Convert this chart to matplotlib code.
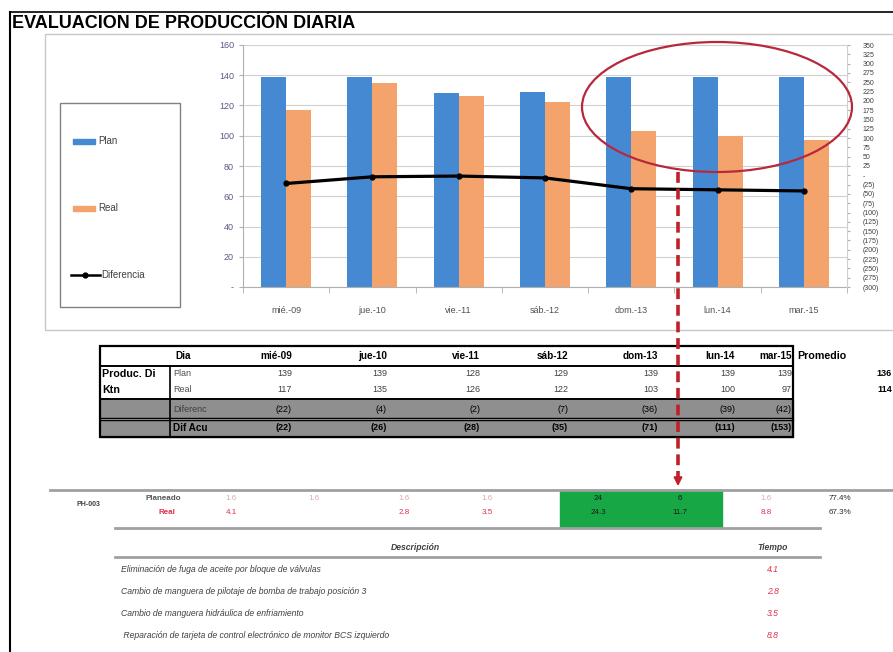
import numpy as np
import matplotlib
matplotlib.use("Agg")
import matplotlib.pyplot as plt
from matplotlib.patches import Rectangle, Ellipse
from matplotlib.lines import Line2D
from matplotlib.ticker import FuncFormatter, MultipleLocator

plt.rcParams['font.family'] = ['Liberation Sans', 'DejaVu Sans']

# datos del grafico
dias = ['mié.-09', 'jue.-10', 'vie.-11', 'sáb.-12', 'dom.-13', 'lun.-14', 'mar.-15']
dias_tabla = ['mié-09', 'jue-10', 'vie-11', 'sáb-12', 'dom-13', 'lun-14', 'mar-15']
plan = [139, 139, 128, 129, 139, 139, 139]
real = [117, 135, 126, 122, 103, 100, 97]
diferencia = [-22, -4, -2, -7, -36, -39, -42]
dif_acu = [-22, -26, -28, -35, -71, -111, -153]

# tabla de paradas
equipo = 'PH-003'
planeado = ['1.6', '1.6', '1.6', '1.6', '24', '6', '1.6']
real_h = ['4.1', '', '2.8', '3.5', '24.3', '11.7', '8.8']
pct_plan = '77.4%'
pct_real = '67.3%'
descripcion = ['Eliminación de fuga de aceite por bloque de válvulas',
               'Cambio de manguera de pilotaje de bomba de trabajo posición 3',
               'Cambio de manguera hidráulica de enfriamiento',
               ' Reparación de tarjeta de control electrónico de monitor BCS izquierdo']
tiempo = ['4.1', '2.8', '3.5', '8.8']

BLUE = '#4589d3'
ORANGE = '#f4a36c'
RED = '#e0304a'
W, H = 893, 652

fig = plt.figure(figsize=(W / 100, H / 100), dpi=100)


def pixel_axes(z):
    a = fig.add_axes([0, 0, 1, 1], zorder=z)
    a.set_xlim(0, W)
    a.set_ylim(H, 0)
    a.axis('off')
    a.patch.set_alpha(0)
    return a


def acct(v):
    if v == 0:
        return '-'
    return f'({abs(v):.0f})' if v < 0 else f'{v:.0f}'


# capa en pixeles para marcos y tablas
bg = pixel_axes(0)

# marcos
bg.plot([10, 10], [12, H], color='black', lw=1.5)
bg.plot([10, W], [12, 12], color='black', lw=1.2)
bg.text(12, 23.5, 'EVALUACION DE PRODUCCIÓN DIARIA', fontsize=13, fontweight='bold',
        va='center', ha='left')
bg.add_patch(Rectangle((45, 34), W - 44, 296, fill=False, ec='#c8c8c8', lw=1))

# grafico principal
ax = fig.add_axes([243 / W, 1 - 287 / H, (847 - 243) / W, (287 - 45) / H], zorder=1)
ax.patch.set_alpha(0)
x = np.arange(len(dias))
bw = 0.29
ax.bar(x - bw / 2, plan, bw, color=BLUE, zorder=2)
ax.bar(x + bw / 2, real, bw, color=ORANGE, zorder=2)
ax.set_xlim(-0.5, len(dias) - 0.5)
ax.set_ylim(0, 160)
ax.yaxis.set_major_locator(MultipleLocator(20))
ax.yaxis.set_major_formatter(FuncFormatter(lambda v, p: acct(v)))
ax.grid(axis='y', color='#d0d0d0', lw=0.8, zorder=0)
ax.set_xticks(x)
ax.set_xticklabels(dias, fontsize=6.5, color='#505050')
ax.tick_params(axis='x', length=0, pad=14)
ax.tick_params(axis='y', labelsize=6.5, labelcolor='#5a5a85', length=3, color='#b0b0b0')
for s in ['top', 'right']:
    ax.spines[s].set_visible(False)
ax.spines['left'].set_color('#b0b0b0')
ax.spines['bottom'].set_color('#b0b0b0')
# marcas entre categorias
ax.set_xticks(np.arange(-0.5, len(dias)), minor=True)
ax.tick_params(axis='x', which='minor', length=4, color='#b0b0b0', direction='out')

ax2 = ax.twinx()
ax2.plot(x, diferencia, color='black', lw=2.3, marker='o', ms=3.5, zorder=5)
ax2.set_ylim(-300, 350)
ax2.yaxis.set_major_locator(MultipleLocator(25))
ax2.yaxis.set_major_formatter(FuncFormatter(lambda v, p: acct(v)))
ax2.tick_params(axis='y', labelsize=5, labelcolor='#404040', length=2, color='#b0b0b0', pad=9)
for s in ['top', 'left', 'bottom']:
    ax2.spines[s].set_visible(False)
ax2.spines['right'].set_color('#d0d0d0')

# leyenda
bg.add_patch(Rectangle((60, 103), 120, 204, fill=False, ec='#808080', lw=1))
ley = [('Plan', BLUE, 141), ('Real', ORANGE, 208)]
for nombre, col, yy in ley:
    bg.add_patch(Rectangle((73, yy - 2.5), 22, 5, color=col))
    bg.text(98, yy, nombre, fontsize=7, va='center', color='#404040')
bg.add_line(Line2D([71, 100], [275, 275], color='black', lw=1.8))
bg.plot([85], [275], 'ko', ms=3.5)
bg.text(101, 275, 'Diferencia', fontsize=7, va='center', color='#404040')

# tabla superior
tx0, tx1 = 100, 793
col_r = [292, 387, 480, 568, 658, 735, 792]
fs = 7.2
fn = 6.5
bg.add_patch(Rectangle((tx0, 400), tx1 - tx0, 18, color='#8f8f8f', zorder=1))
bg.add_patch(Rectangle((tx0, 420), tx1 - tx0, 17, color='#8f8f8f', zorder=1))
bg.add_patch(Rectangle((tx0, 346), tx1 - tx0, 91, fill=False, ec='black', lw=1.6, zorder=3))
for yy, lw in [(366, 1.4), (399, 1.4), (418, 1), (420, 1)]:
    bg.plot([tx0, tx1], [yy, yy], color='black', lw=lw, zorder=3)
bg.plot([170, 170], [366, 437], color='black', lw=1.2, zorder=3)
bg.text(175, 356, 'Dia', fontsize=fs, fontweight='bold', va='center')
for i in range(len(dias_tabla)):
    bg.text(col_r[i], 356, dias_tabla[i], fontsize=fs, fontweight='bold', va='center', ha='right')
    bg.text(col_r[i], 374, acct(plan[i]), fontsize=fn, va='center', ha='right', color='#404040')
    bg.text(col_r[i], 390, acct(real[i]), fontsize=fn, va='center', ha='right', color='#404040')
    bg.text(col_r[i], 409, acct(diferencia[i]), fontsize=fn, va='center', ha='right', zorder=4)
    bg.text(col_r[i], 428, acct(dif_acu[i]), fontsize=fn, va='center', ha='right',
            fontweight='bold', zorder=4)
bg.text(797, 356, 'Promedio', fontsize=fs + 0.5, fontweight='bold', va='center', ha='left')
bg.text(892, 374, f'{np.mean(plan):.0f}', fontsize=fn, fontweight='bold', va='center', ha='right')
bg.text(892, 390, f'{np.mean(real):.0f}', fontsize=fn, fontweight='bold', va='center', ha='right')
bg.text(102, 374, 'Produc. Di', fontsize=fs + 0.5, fontweight='bold', va='center')
bg.text(102, 390, 'Ktn', fontsize=fs + 0.5, fontweight='bold', va='center')
bg.text(173, 374, 'Plan', fontsize=fn, va='center', color='#505050')
bg.text(173, 390, 'Real', fontsize=fn, va='center', color='#505050')
bg.text(173, 409, 'Diferenc', fontsize=fn, va='center', color='#404040', zorder=4)
bg.text(173, 428, 'Dif Acu', fontsize=fs, va='center', fontweight='bold', zorder=4)

# tabla inferior
bg.plot([50, W], [490, 490], color='#a0a0a0', lw=2)
bg.add_patch(Rectangle((560, 490), 162, 37, color='#17a845', zorder=1))
bg.text(88, 505, equipo, fontsize=5, fontweight='bold', ha='center', va='center', color='#404040')
bg.text(163, 498, 'Planeado', fontsize=5.8, fontweight='bold', ha='center', va='center', color='#555555')
bg.text(167, 513, 'Real', fontsize=5.8, fontweight='bold', ha='center', va='center', color=RED)
col_c = [231, 314, 404, 487, 598, 680, 766]
for i in range(len(planeado)):
    on_green = 4 <= i <= 5
    bg.text(col_c[i], 498, planeado[i], fontsize=5.8, ha='center', va='center',
            color='#1a1a1a' if on_green else '#d9aab2', zorder=2)
    bg.text(col_c[i], 513, real_h[i], fontsize=5.8, ha='center', va='center',
            color='#1a1a1a' if on_green else RED, zorder=2)
bg.text(840, 498, pct_plan, fontsize=5.8, ha='center', va='center', color='#303030')
bg.text(840, 513, pct_real, fontsize=5.8, ha='center', va='center', color='#303030')
bg.plot([115, 820], [528, 528], color='#a0a0a0', lw=2)
bg.text(415, 547, 'Descripción', fontsize=6.2, fontweight='bold', style='italic', ha='center',
        va='center', color='#404040')
bg.text(773, 547, 'Tiempo', fontsize=6.2, fontweight='bold', style='italic', ha='center',
        va='center', color='#404040')
bg.plot([115, 820], [557, 557], color='#a0a0a0', lw=2)
for i, (d, t) in enumerate(zip(descripcion, tiempo)):
    yy = 569 + i * 22.3
    bg.text(121, yy, d, fontsize=6.2, style='italic', va='center', color='#404040')
    bg.text(773, yy, t, fontsize=6.2, style='italic', va='center', ha='center', color=RED)

# elipse y flecha encima de todo
top = pixel_axes(5)
top.add_patch(Ellipse((717, 107), 270, 130, fill=False, ec='#b8283c', lw=1.6))
top.plot([678, 678], [172, 478], color='#c0202a', lw=2.6, ls=(0, (3, 1.6)))
top.annotate('', xy=(678, 489), xytext=(678, 476),
             arrowprops=dict(arrowstyle='-|>', color='#c0202a', lw=1.5, mutation_scale=12))

fig.savefig('out.png', dpi=100)
